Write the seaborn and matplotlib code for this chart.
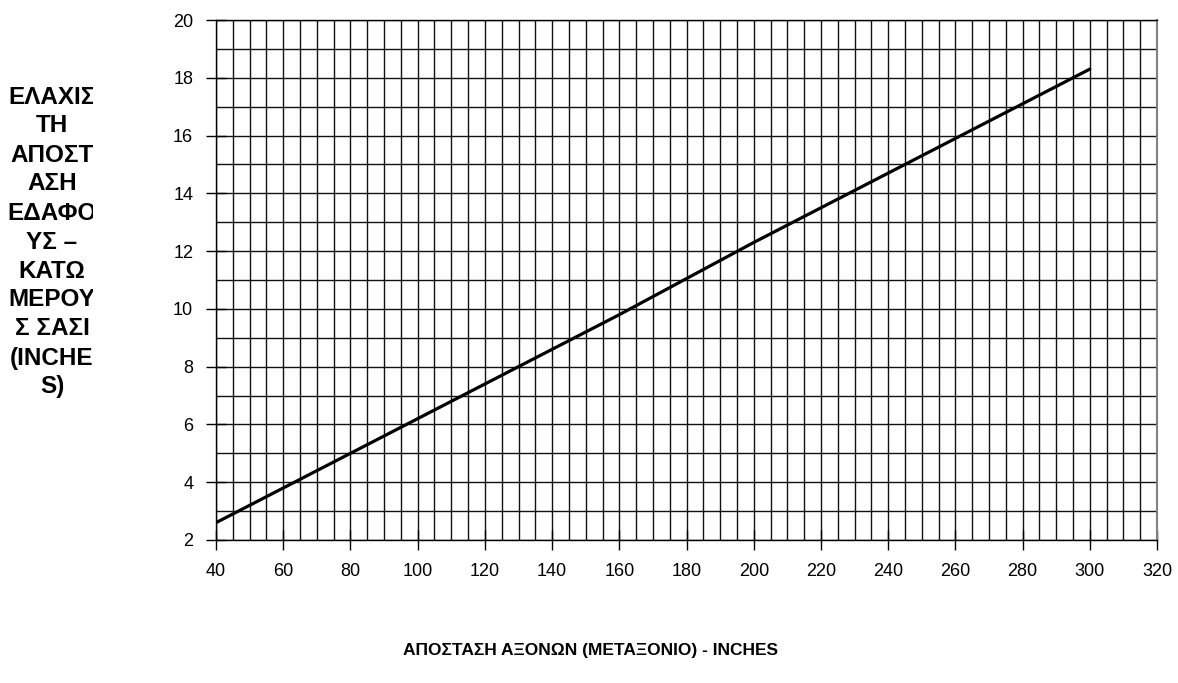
import matplotlib
matplotlib.use('Agg')
import matplotlib.pyplot as plt
import seaborn as sns
import pandas as pd
import numpy as np
from matplotlib.transforms import Bbox

# ================================================ DATA ===============================================================

wheelbase = [40, 80, 100, 160, 200, 260, 300]
clearance = [2.6, 5.0, 6.2, 9.8, 12.3, 15.9, 18.3]

x_ticks = list(range(40, 321, 20))
y_ticks = list(range(2, 21, 2))

x_label = 'ΑΠΟΣΤΑΣΗ ΑΞΟΝΩΝ (ΜΕΤΑΞΟΝΙΟ) - INCHES'
y_label_lines = ['ΕΛΑΧΙΣ', 'ΤΗ', 'ΑΠΟΣΤ', 'ΑΣΗ', 'ΕΔΑΦΟ', 'ΥΣ –', 'ΚΑΤΩ',
                 'ΜΕΡΟΥ', 'Σ ΣΑΣΙ', '(INCHE', 'S)']

# ================================================ PLOT ===============================================================

sns.set_theme(style='white')
plt.rcParams['font.family'] = ['Liberation Sans', 'DejaVu Sans']
plt.rcParams['text.color'] = 'black'
plt.rcParams['xtick.color'] = 'black'
plt.rcParams['ytick.color'] = 'black'

df = pd.DataFrame({'x': wheelbase, 'y': clearance})

fig = plt.figure(figsize=(11.78, 6.83), dpi=100)
ax = fig.add_axes([0.1834, 0.2094, 0.7988, 0.7613])

# grid: every 5 along x, every 1 along y
ax.set_xticks(np.arange(40, 321, 5), minor=True)
ax.set_yticks(np.arange(2, 21, 1), minor=True)
ax.grid(which='both', color='#111111', linewidth=1.0)
ax.set_axisbelow(True)

sns.lineplot(data=df, x='x', y='y', ax=ax, color='black', linewidth=2.3)

ax.set_xlim(40, 320)
ax.set_ylim(2, 20)
ax.set_xticks(x_ticks)
ax.set_yticks(y_ticks)
ax.tick_params(axis='both', which='major', bottom=True, left=True, labelsize=13,
               colors='black', length=15, width=1, direction='inout', pad=9)
ax.tick_params(axis='both', which='minor', length=0)
ax.set_xlabel('')
ax.set_ylabel('')

for side in ['left', 'top', 'bottom']:
    ax.spines[side].set_color('black')
    ax.spines[side].set_linewidth(1)
ax.spines['right'].set_color('#808080')
ax.spines['right'].set_linewidth(1.5)

fig.text(0.501, 1 - 651 / 683, x_label, ha='center', va='center',
         fontsize=12.5, fontweight='bold')

# wrapped y label, clipped on the right like in the original
clip = Bbox.from_extents(0, 0, 93, 683)
for i, line in enumerate(y_label_lines):
    t = fig.text(52 / 1178, 1 - (97 + i * 29.0) / 683, line, ha='center', va='center',
                 fontsize=17.5, fontweight='bold')
    t.set_clip_box(clip)
    t.set_clip_on(True)

fig.savefig('out.png', dpi=100)
